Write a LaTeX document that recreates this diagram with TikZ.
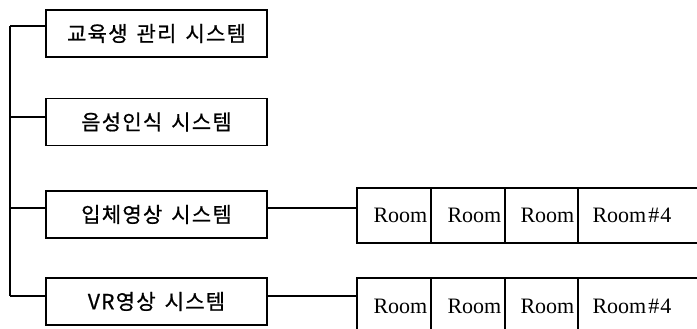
\documentclass[tikz,border=0pt]{standalone}
\usepackage{fontspec}
\setmainfont{Liberation Serif}
\newfontfamily\kor[LetterSpace=6,FakeBold=0.7]{Noto Sans CJK KR}
\usetikzlibrary{calc}
\newcommand{\wsp}{\hspace{9pt}}
\begin{document}
\begin{tikzpicture}[x=1pt,y=-1pt,line width=1.1pt,
  sysbox/.style={draw,rectangle,minimum width=221pt,minimum height=47pt,inner sep=0pt,
    font=\kor\fontsize{21}{24}\selectfont},
  cell/.style={draw,rectangle,minimum height=55pt,inner sep=0pt},
  roomtxt/.style={anchor=base west,inner sep=0pt,font=\fontsize{22}{26}\selectfont}]
\useasboundingbox (0,0) rectangle (697,329);
\clip (0,0) rectangle (697,329);
\node[sysbox] (b1) at (156.5,33.5) {교육생\wsp 관리\wsp 시스템};
\node[sysbox] (b2) at (156.5,122) {음성인식\wsp 시스템};
\node[sysbox] (b3) at (156.5,214.5) {입체영상\wsp 시스템};
\node[sysbox] (b4) at (156.5,301.5) {VR영상\wsp 시스템};
\coordinate (t1) at (10,26);
\coordinate (t2) at (10,117);
\coordinate (t3) at (10,208);
\coordinate (t4) at (10,296);
\draw (t1) -- (t4);
\draw (t1) -- (t1 -| b1.west);
\draw (t2) -- (t2 -| b2.west);
\draw (t3) -- (t3 -| b3.west);
\draw (t4) -- (t4 -| b4.west);
% room strips
\foreach \r/\y in {1/215.5,2/305.5}{
  \node[cell,minimum width=74pt] (r\r a) at (394,\y) {};
  \node[cell,minimum width=74pt] (r\r b) at (468,\y) {};
  \node[cell,minimum width=73pt] (r\r c) at (541.5,\y) {};
  \node[cell,minimum width=150pt] (r\r d) at (653,\y) {};
}
\node[roomtxt] (l1a) at (373,222) {Room};
\node[roomtxt] (l1b) at (447,222) {Room};
\node[roomtxt] (l1c) at (520,222) {Room};
\node[roomtxt] (l1d) at (592,222) {Room\kern2pt\#\kern1pt4};
\node[roomtxt] (l2a) at (373,313) {Room};
\node[roomtxt] (l2b) at (447,313) {Room};
\node[roomtxt] (l2c) at (520,313) {Room};
\node[roomtxt] (l2d) at (592,313) {Room\kern2pt\#\kern1pt4};
\coordinate (c3) at (300,208);
\coordinate (c4) at (300,296);
\draw (b3.east |- c3) -- (c3 -| r1a.west);
\draw (b4.east |- c4) -- (c4 -| r2a.west);
\end{tikzpicture}
\end{document}
